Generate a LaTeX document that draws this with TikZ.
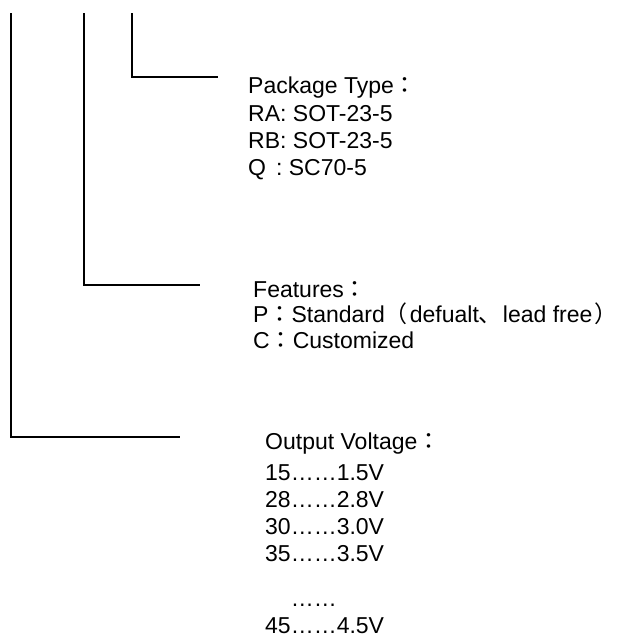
\documentclass[tikz,border=0pt]{standalone}
\usepackage{fontspec}
\setmainfont{Liberation Sans}
\newfontfamily\cjk{Noto Sans CJK SC}
\newfontfamily\cjktc{Noto Sans CJK TC}
\usepackage{tikz}
\usetikzlibrary{positioning, calc}

\newcommand{\fwc}{{\cjktc ：}}

\tikzset{
    lead/.style={line width=1.6pt, line join=miter},
    lbl/.style={anchor=base west, inner sep=0pt, align=left},
}

\begin{document}
\begin{tikzpicture}[x=1pt, y=-1pt]
    \useasboundingbox (0,0) rectangle (621,638);

    % corner points of the three leads
    \coordinate (a0) at (11,13);
    \coordinate (a1) at (11,437);
    \coordinate (a2) at (180,437);
    \coordinate (b0) at (84,13);
    \coordinate (b1) at (84,285);
    \coordinate (b2) at (200,285);
    \coordinate (c0) at (132,13);
    \coordinate (c1) at (132,77);
    \coordinate (c2) at (218,77);

    \draw [lead] (a0) -- (a1) -- (a2);
    \draw [lead] (b0) -- (b1) -- (b2);
    \draw [lead] (c0) -- (c1) -- (c2);

    % text blocks, placed by the baseline of their last line
    \node [lbl, font=\fontsize{23}{27}\selectfont] (pkg) at (248,175)
        {Package Type\fwc\\[1pt]
         RA: SOT-23-5\\
         RB: SOT-23-5\\
         Q\hspace{10pt}: SC70-5};
    \node [lbl, font=\fontsize{23}{25.5}\selectfont] (feat) at (253,348)
        {Features\fwc\\
         P\fwc Standard{\cjk （}\hspace{2pt}defualt{\cjk 、}\hspace{1pt}lead free\hspace{2pt}{\cjk ）}\\
         C\fwc Customized};
    \node [lbl, font=\fontsize{23}{27}\selectfont] (volt) at (265,633)
        {Output Voltage\fwc\\[4pt]
         15……1.5V\\
         28……2.8V\\
         30……3.0V\\
         35……3.5V\\[18pt]
         \phantom{15}……\\
         45……4.5V};
\end{tikzpicture}
\end{document}
